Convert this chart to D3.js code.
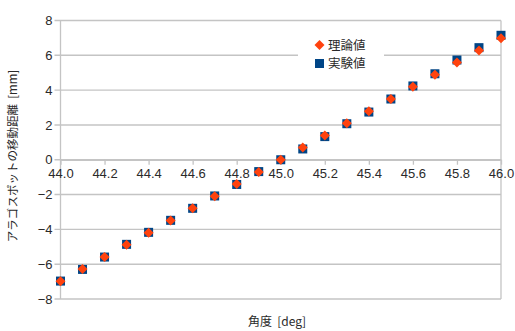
<!DOCTYPE html>
<html>
<head>
<meta charset="utf-8">
<script src="https://cdn.jsdelivr.net/npm/d3@7"></script>
<style>
  html, body { margin: 0; padding: 0; background: #fff; }
  svg { display: block; }
  text { font-family: "Liberation Sans", "Noto Sans CJK JP", sans-serif; }
  .title { white-space: pre; }
</style>
</head>
<body>
<svg id="chart" width="515" height="331"></svg>
<script>
// Angle of the sample (deg)
const angles = [44.0, 44.1, 44.2, 44.3, 44.4, 44.5, 44.6, 44.7, 44.8, 44.9, 45.0,
                45.1, 45.2, 45.3, 45.4, 45.5, 45.6, 45.7, 45.8, 45.9, 46.0];
// Theoretical displacement of the Arago spot (mm)
const theory = [-6.98, -6.28, -5.58, -4.89, -4.19, -3.49, -2.79, -2.09, -1.40, -0.70, 0.00,
                0.70, 1.40, 2.09, 2.79, 3.49, 4.19, 4.89, 5.58, 6.28, 6.98];
// Measured displacement (mm)
const measured = [-6.97, -6.30, -5.59, -4.86, -4.17, -3.48, -2.79, -2.08, -1.42, -0.68, 0.00,
                  0.62, 1.33, 2.07, 2.74, 3.49, 4.24, 4.94, 5.73, 6.44, 7.15];
const xTicks = [44.0, 44.2, 44.4, 44.6, 44.8, 45.0, 45.2, 45.4, 45.6, 45.8, 46.0];
const yTicks = [-8, -6, -4, -2, 0, 2, 4, 6, 8];
const seriesNames = ["理論値", "実験値"];
const xTitle = "角度  [deg]";
const yTitle = "アラゴスポットの移動距離  [mm]";

const svg = d3.select("#chart");
const plotLeft = 60.5, plotRight = 501, plotTop = 20.5, plotBottom = 299;
const x = d3.scaleLinear().domain([44, 46]).range([plotLeft, plotRight]);
const y = d3.scaleLinear().domain([-8, 8]).range([plotBottom, plotTop]);

const gridColor = "#c4c4c4";
const textColor = "#2a2a2a";
const orange = "#ff420e";
const navy = "#004586";

// horizontal grid lines, with small ticks left of the value axis
svg.append("g").selectAll("line").data(yTicks).join("line")
  .attr("x1", plotLeft - 6).attr("x2", plotRight)
  .attr("y1", d => y(d)).attr("y2", d => y(d))
  .attr("stroke", gridColor).attr("stroke-width", 1.4);

// left and right plot borders
svg.append("line").attr("x1", plotLeft).attr("x2", plotLeft).attr("y1", plotTop).attr("y2", plotBottom)
  .attr("stroke", gridColor).attr("stroke-width", 1.3);
svg.append("line").attr("x1", plotRight).attr("x2", plotRight).attr("y1", plotTop).attr("y2", plotBottom)
  .attr("stroke", gridColor).attr("stroke-width", 1.3);

// x axis crossing at zero
const xAxis = d3.axisBottom(x).tickValues(xTicks).tickFormat(d3.format(".1f"))
  .tickSize(5).tickSizeOuter(0).tickPadding(4);
const gx = svg.append("g").attr("transform", `translate(0,${y(0)})`).call(xAxis);
gx.select(".domain").attr("stroke", gridColor).attr("stroke-width", 1.4);
gx.selectAll(".tick line").attr("stroke", gridColor).attr("stroke-width", 1.3);
gx.selectAll(".tick text").attr("fill", textColor).style("font-size", "13px")
  .style("font-family", "Liberation Sans, sans-serif");

// y tick labels
const yAxis = d3.axisLeft(y).tickValues(yTicks).tickSize(0).tickPadding(8);
const gy = svg.append("g").attr("transform", `translate(${plotLeft},0)`).call(yAxis);
gy.select(".domain").remove();
gy.selectAll(".tick text").attr("fill", textColor).style("font-size", "13px")
  .style("font-family", "Liberation Sans, sans-serif");

// markers
const sq = 9;
svg.append("g").selectAll("rect").data(angles).join("rect")
  .attr("x", (d, i) => x(d) - sq / 2)
  .attr("y", (d, i) => y(measured[i]) - sq / 2)
  .attr("width", sq).attr("height", sq)
  .attr("fill", navy);

const diamond = r => `M0,${-r}L${r},0L0,${r}L${-r},0Z`;
svg.append("g").selectAll("path").data(angles).join("path")
  .attr("transform", (d, i) => `translate(${x(d)},${y(theory[i])})`)
  .attr("d", diamond(5))
  .attr("fill", orange);

// legend
const lg = svg.append("g");
lg.append("rect").attr("x", 298).attr("y", 33).attr("width", 86).attr("height", 42).attr("fill", "#fff");
lg.append("path").attr("transform", "translate(319.5,45)").attr("d", diamond(5)).attr("fill", orange);
lg.append("rect").attr("x", 315).attr("y", 59).attr("width", 9).attr("height", 9).attr("fill", navy);
lg.selectAll("text").data(seriesNames).join("text")
  .attr("x", 328).attr("y", (d, i) => 45 + i * 18.5)
  .attr("dy", "0.36em")
  .attr("fill", textColor)
  .style("font-family", "Noto Sans CJK JP, sans-serif")
  .style("font-size", "12.5px")
  .text(d => d);

// axis titles
svg.append("text").attr("class", "title").attr("x", 277).attr("y", 326)
  .attr("text-anchor", "middle").attr("fill", textColor)
  .style("font-family", "Noto Sans CJK JP, sans-serif").style("font-size", "12px")
  .text(xTitle);
svg.append("text").attr("class", "title")
  .attr("transform", `translate(17,156) rotate(-90)`)
  .attr("text-anchor", "middle").attr("fill", textColor)
  .style("font-family", "Noto Sans CJK JP, sans-serif").style("font-size", "11.5px")
  .text(yTitle);
</script>
</body>
</html>
